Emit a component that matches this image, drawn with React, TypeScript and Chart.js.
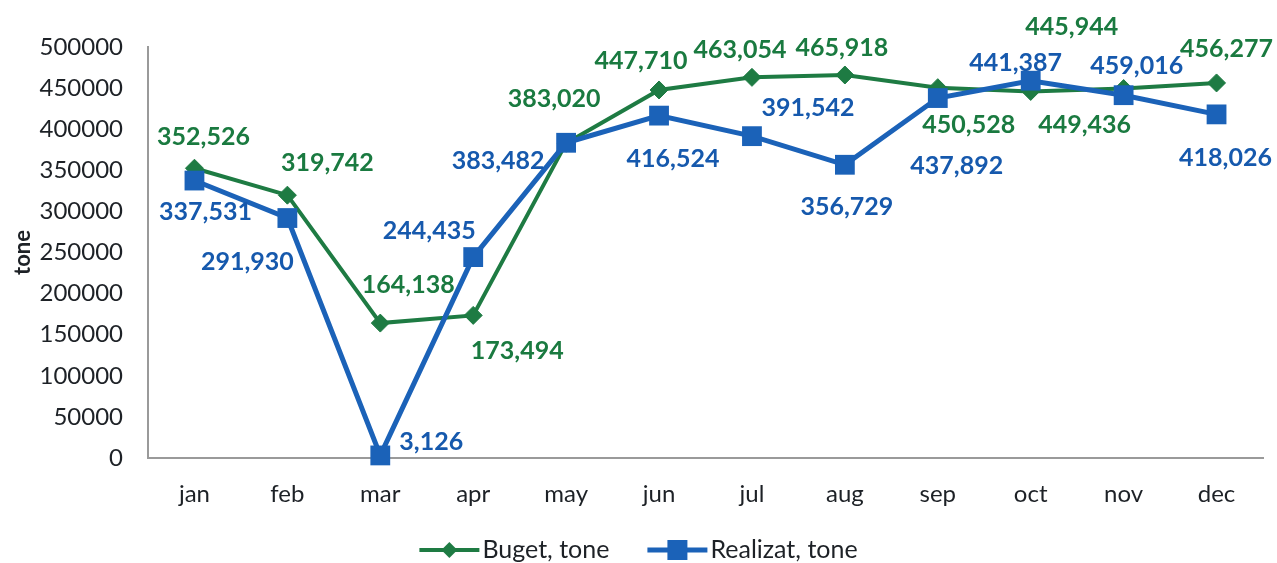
import React, { useEffect, useRef } from 'react';
import { Chart, registerables } from 'chart.js';

Chart.register(...registerables);

const months = ['jan', 'feb', 'mar', 'apr', 'may', 'jun', 'jul', 'aug', 'sep', 'oct', 'nov', 'dec'];
const bugetTone = [352526, 319742, 164138, 173494, 383020, 447710, 463054, 465918, 450528, 445944, 449436, 456277];
const realizatTone = [337531, 291930, 3126, 244435, 383482, 416524, 391542, 356729, 437892, 459016, 441387, 418026];
const yMin = 0;
const yMax = 500000;
const yStep = 50000;
const bugetLabel = 'Buget, tone';
const realizatLabel = 'Realizat, tone';
const yTitle = 'tone';

// label placement (dx, dy) relative to each point, as in the reference
const bugetLabelOffsets = [[9, -31], [40, -32], [28, -38], [44, 36], [-12, -44], [-18, -29], [-12, -27], [-3, -27], [31, 37], [41, -64], [-39, 36], [10, -34]];
const realizatLabelOffsets = [[11, 31], [-40, 44], [51, -13], [-44, -26], [-68, 18], [14, 43], [56, -28], [2, 42], [19, 68], [106, -15], [-108, -32], [9, 44]];

const GREEN = '#1E7B43';
const BLUE = '#1B62B8';
const GREEN_TXT = '#1A7A40';
const BLUE_TXT = '#1659AD';
const FONT = 'Lato';

const labelPlugin = {
  id: 'valueLabels',
  afterDatasetsDraw(chart: any) {
    const ctx = chart.ctx;
    ctx.save();
    ctx.font = `bold 25px ${FONT}`;
    ctx.textAlign = 'center';
    ctx.textBaseline = 'middle';
    chart.data.datasets.forEach((ds: any, di: number) => {
      const meta = chart.getDatasetMeta(di);
      const offs = ds.labelOffsets as number[][];
      ctx.fillStyle = ds.labelColor;
      meta.data.forEach((pt: any, i: number) => {
        const v = ds.data[i] as number;
        const [dx, dy] = offs[i];
        ctx.fillText(v.toLocaleString('en-US'), pt.x + dx, pt.y + dy);
      });
    });
    ctx.restore();
  },
};

const legendPlugin = {
  id: 'customLegend',
  afterDraw(chart: any) {
    const ctx = chart.ctx;
    const items = [1, 0].map((i) => chart.data.datasets[i]);
    ctx.save();
    ctx.font = `25px ${FONT}`;
    const lineW = 60;
    const gapText = 3;
    const gapItems = 38;
    const widths = items.map((d: any) => lineW + gapText + ctx.measureText(d.label).width);
    const total = widths.reduce((a: number, b: number) => a + b, 0) + gapItems;
    let x = chart.width / 2 - total / 2;
    const y = 550;
    items.forEach((d: any, k: number) => {
      ctx.strokeStyle = d.borderColor;
      ctx.lineWidth = d.borderWidth;
      ctx.beginPath();
      ctx.moveTo(x, y);
      ctx.lineTo(x + lineW, y);
      ctx.stroke();
      const cx = x + lineW / 2;
      ctx.fillStyle = d.backgroundColor;
      ctx.beginPath();
      if (d.pointStyle === 'rectRot') {
        const r = 8;
        ctx.moveTo(cx - r, y);
        ctx.lineTo(cx, y - r);
        ctx.lineTo(cx + r, y);
        ctx.lineTo(cx, y + r);
        ctx.closePath();
      } else {
        const s = 10;
        ctx.rect(cx - s, y - s, 2 * s, 2 * s);
      }
      ctx.fill();
      ctx.fillStyle = '#1d2126';
      ctx.textAlign = 'left';
      ctx.textBaseline = 'middle';
      ctx.fillText(d.label, x + lineW + gapText, y);
      x += widths[k] + gapItems;
    });
    ctx.restore();
  },
};

export default function App() {
  const ref = useRef<HTMLCanvasElement | null>(null);
  useEffect(() => {
    if (!ref.current) return;
    const chart = new Chart(ref.current, {
      type: 'line',
      data: {
        labels: months,
        datasets: [
          {
            label: realizatLabel,
            data: realizatTone,
            borderColor: BLUE,
            backgroundColor: BLUE,
            borderWidth: 5,
            pointStyle: 'rect',
            pointRadius: 14,
            pointBorderWidth: 0,
            tension: 0,
            clip: false,
            order: 0,
            labelOffsets: realizatLabelOffsets,
            labelColor: BLUE_TXT,
          } as any,
          {
            label: bugetLabel,
            data: bugetTone,
            borderColor: GREEN,
            backgroundColor: GREEN,
            borderWidth: 4,
            pointStyle: 'rectRot',
            pointRadius: 9,
            pointBorderWidth: 1,
            tension: 0,
            clip: false,
            order: 1,
            labelOffsets: bugetLabelOffsets,
            labelColor: GREEN_TXT,
          } as any,
        ],
      },
      options: {
        responsive: true,
        maintainAspectRatio: false,
        animation: false,
        layout: { padding: { left: 0, right: 13, top: 47, bottom: 55 } },
        plugins: {
          legend: { display: false },
          tooltip: { enabled: false },
        },
        scales: {
          x: {
            offset: true,
            grid: { display: true, drawOnChartArea: false, drawTicks: false },
            border: { display: true, color: '#9a9a9a', width: 2 },
            ticks: { color: '#1d2126', padding: 22, font: { family: FONT, size: 24 } },
            afterFit: (s: any) => {
              s.height = 50;
            },
          },
          y: {
            min: yMin,
            max: yMax,
            grid: { display: true, drawOnChartArea: false, drawTicks: false },
            border: { display: true, color: '#9a9a9a', width: 2 },
            ticks: {
              stepSize: yStep,
              color: '#1d2126',
              padding: 25,
              font: { family: FONT, size: 24 },
              callback: (v: any) => String(v),
            },
            title: {
              display: true,
              text: yTitle,
              color: '#1d2126',
              font: { family: FONT, size: 22, weight: 'bold' },
              padding: { top: 10, bottom: 0 },
            },
            afterFit: (s: any) => {
              s.width = 148;
            },
          },
        },
      },
      plugins: [labelPlugin, legendPlugin],
    });
    return () => chart.destroy();
  }, []);
  return (
    <div style={{ position: 'fixed', left: 0, top: 0, width: 1277, height: 563, background: '#fff' }}>
      <canvas ref={ref} />
    </div>
  );
}
